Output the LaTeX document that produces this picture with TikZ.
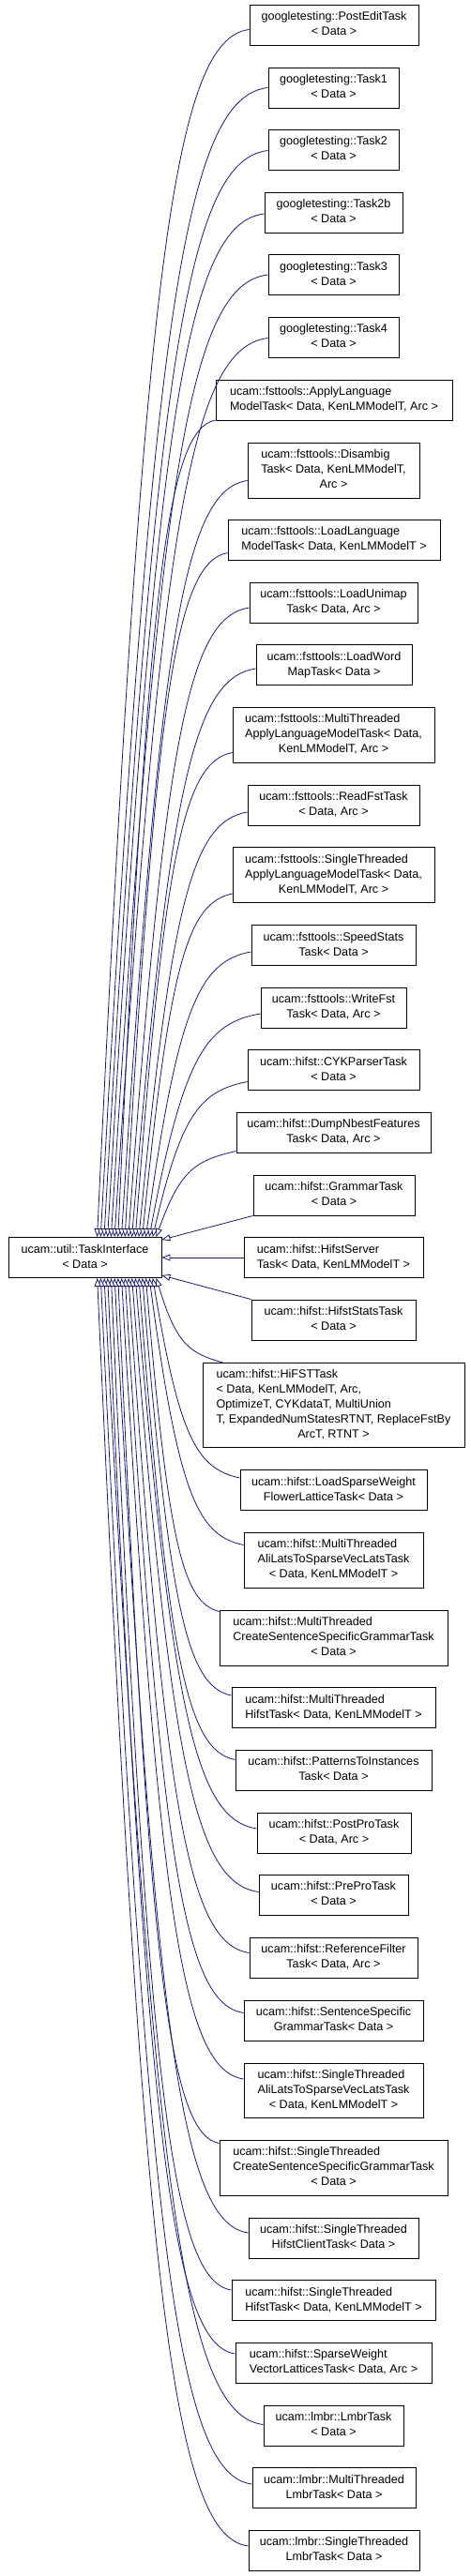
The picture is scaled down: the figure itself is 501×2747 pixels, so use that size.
\documentclass[tikz,border=0pt]{standalone}
\usepackage{fontspec}
\setmainfont{Liberation Sans}
\usetikzlibrary{arrows.meta}
\definecolor{edgeblue}{HTML}{191970}
\newcommand\lastln[1]{\multicolumn{1}{@{}c@{}}{#1}}
\newcommand\bx[1]{\begin{tabular}{@{}l@{}}#1\end{tabular}}
\begin{document}
\begin{tikzpicture}[x=1pt,y=-1pt,
  every node/.style={font=\fontsize{12.6}{16}\selectfont},
  box/.style={draw=black, line width=0.9pt, fill=white, inner sep=0pt, minimum height=43pt},
  inhedge/.style={draw=edgeblue, line width=0.8pt, -{Triangle[open,length=9pt,width=7pt,fill=white]}}]
\useasboundingbox (0,0) rectangle (501,2747);
\node[box, minimum width=163pt] (L) at (90.5,1341) {\bx{ucam::util::TaskInterface\\ \lastln{< Data >}}};
\node[box, minimum width=180pt] (n1) at (356,26.5) {\bx{googletesting::PostEditTask\\ \lastln{< Data >}}};
\node[box, minimum width=139pt] (n2) at (355.5,93.5) {\bx{googletesting::Task1\\ \lastln{< Data >}}};
\node[box, minimum width=139pt] (n3) at (355.5,159.5) {\bx{googletesting::Task2\\ \lastln{< Data >}}};
\node[box, minimum width=147pt] (n4) at (355.5,226.5) {\bx{googletesting::Task2b\\ \lastln{< Data >}}};
\node[box, minimum width=139pt] (n5) at (355.5,293) {\bx{googletesting::Task3\\ \lastln{< Data >}}};
\node[box, minimum width=139pt] (n6) at (355.5,359.5) {\bx{googletesting::Task4\\ \lastln{< Data >}}};
\node[box, minimum width=252pt] (n7) at (356,426.5) {\bx{ucam::fsttools::ApplyLanguage\\ \lastln{ModelTask< Data, KenLMModelT, Arc >}}};
\node[box, minimum width=183pt, minimum height=59pt] (n8) at (355.5,501.5) {\bx{ucam::fsttools::Disambig\\ Task< Data, KenLMModelT,\\ \lastln{Arc >}}};
\node[box, minimum width=226pt] (n9) at (356,575.5) {\bx{ucam::fsttools::LoadLanguage\\ \lastln{ModelTask< Data, KenLMModelT >}}};
\node[box, minimum width=179pt] (n10) at (355.5,642.5) {\bx{ucam::fsttools::LoadUnimap\\ \lastln{Task< Data, Arc >}}};
\node[box, minimum width=166pt] (n11) at (356,709) {\bx{ucam::fsttools::LoadWord\\ \lastln{MapTask< Data >}}};
\node[box, minimum width=215pt, minimum height=59pt] (n12) at (355.5,783.5) {\bx{ucam::fsttools::MultiThreaded\\ ApplyLanguageModelTask< Data,\\ \lastln{KenLMModelT, Arc >}}};
\node[box, minimum width=183pt] (n13) at (355.5,858.5) {\bx{ucam::fsttools::ReadFstTask\\ \lastln{< Data, Arc >}}};
\node[box, minimum width=215pt, minimum height=59pt] (n14) at (355.5,933) {\bx{ucam::fsttools::SingleThreaded\\ ApplyLanguageModelTask< Data,\\ \lastln{KenLMModelT, Arc >}}};
\node[box, minimum width=175pt] (n15) at (355.5,1008) {\bx{ucam::fsttools::SpeedStats\\ \lastln{Task< Data >}}};
\node[box, minimum width=155pt] (n16) at (355.5,1074.5) {\bx{ucam::fsttools::WriteFst\\ \lastln{Task< Data, Arc >}}};
\node[box, minimum width=183pt] (n17) at (355.5,1141) {\bx{ucam::hifst::CYKParserTask\\ \lastln{< Data >}}};
\node[box, minimum width=207pt] (n18) at (355.5,1207.5) {\bx{ucam::hifst::DumpNbestFeatures\\ \lastln{Task< Data, Arc >}}};
\node[box, minimum width=172pt] (n19) at (356,1274.5) {\bx{ucam::hifst::GrammarTask\\ \lastln{< Data >}}};
\node[box, minimum width=191pt] (n20) at (355.5,1341) {\bx{ucam::hifst::HifstServer\\ \lastln{Task< Data, KenLMModelT >}}};
\node[box, minimum width=175pt] (n21) at (355.5,1407.5) {\bx{ucam::hifst::HifstStatsTask\\ \lastln{< Data >}}};
\node[box, minimum width=279pt, minimum height=90pt] (n22) at (355.5,1498) {\bx{ucam::hifst::HiFSTTask\\ < Data, KenLMModelT, Arc,\\ OptimizeT, CYKdataT, MultiUnion\\ T, ExpandedNumStatesRTNT, ReplaceFstBy\\ \lastln{ArcT, RTNT >}}};
\node[box, minimum width=199pt] (n23) at (355.5,1589) {\bx{ucam::hifst::LoadSparseWeight\\ \lastln{FlowerLatticeTask< Data >}}};
\node[box, minimum width=191pt, minimum height=59pt] (n24) at (355.5,1663.5) {\bx{ucam::hifst::MultiThreaded\\ AliLatsToSparseVecLatsTask\\ \lastln{< Data, KenLMModelT >}}};
\node[box, minimum width=243pt, minimum height=59pt] (n25) at (355.5,1746.5) {\bx{ucam::hifst::MultiThreaded\\ CreateSentenceSpecificGrammarTask\\ \lastln{< Data >}}};
\node[box, minimum width=217pt] (n26) at (355.5,1821) {\bx{ucam::hifst::MultiThreaded\\ \lastln{HifstTask< Data, KenLMModelT >}}};
\node[box, minimum width=209pt] (n27) at (355.5,1887.5) {\bx{ucam::hifst::PatternsToInstances\\ \lastln{Task< Data >}}};
\node[box, minimum width=164pt] (n28) at (356,1954.5) {\bx{ucam::hifst::PostProTask\\ \lastln{< Data, Arc >}}};
\node[box, minimum width=159pt] (n29) at (355.5,2020.5) {\bx{ucam::hifst::PreProTask\\ \lastln{< Data >}}};
\node[box, minimum width=179pt] (n30) at (355.5,2087.5) {\bx{ucam::hifst::ReferenceFilter\\ \lastln{Task< Data, Arc >}}};
\node[box, minimum width=191pt] (n31) at (355.5,2154.5) {\bx{ucam::hifst::SentenceSpecific\\ \lastln{GrammarTask< Data >}}};
\node[box, minimum width=191pt, minimum height=58pt] (n32) at (355.5,2229) {\bx{ucam::hifst::SingleThreaded\\ AliLatsToSparseVecLatsTask\\ \lastln{< Data, KenLMModelT >}}};
\node[box, minimum width=243pt, minimum height=59pt] (n33) at (355.5,2311.5) {\bx{ucam::hifst::SingleThreaded\\ CreateSentenceSpecificGrammarTask\\ \lastln{< Data >}}};
\node[box, minimum width=181pt] (n34) at (355.5,2386.5) {\bx{ucam::hifst::SingleThreaded\\ \lastln{HifstClientTask< Data >}}};
\node[box, minimum width=217pt] (n35) at (355.5,2453) {\bx{ucam::hifst::SingleThreaded\\ \lastln{HifstTask< Data, KenLMModelT >}}};
\node[box, minimum width=209pt] (n36) at (355.5,2519.5) {\bx{ucam::hifst::SparseWeight\\ \lastln{VectorLatticesTask< Data, Arc >}}};
\node[box, minimum width=149pt] (n37) at (355.5,2586.5) {\bx{ucam::lmbr::LmbrTask\\ \lastln{< Data >}}};
\node[box, minimum width=174pt] (n38) at (356,2653) {\bx{ucam::lmbr::MultiThreaded\\ \lastln{LmbrTask< Data >}}};
\node[box, minimum width=182pt] (n39) at (356,2719.5) {\bx{ucam::lmbr::SingleThreaded\\ \lastln{LmbrTask< Data >}}};
% edges from the upper classes
\foreach \n/\dx/\sy/\xs/\ys/\xe in {n1/0/-5/266/31.5/104, n2/0/0/286/93.5/107.7, n3/0/-1/286/160.5/111.4,
  n4/0/-1.5/282/228/115.1, n5/0/0/286/293/118.8, n6/0/-1/286/360.5/122.5, n7/0/-21.5/230/448/126.2,
  n8/0/-11/264/512.5/129.9, n9/0/-14/243/589.5/133.6, n10/0/-5.5/266/648/137.3, n11/0/-4/273/713/141,
  n12/0/-19/248/802.5/144.7, n13/0/-7.5/264/866/148.4, n14/0/-20/248/953/152.1, n15/0/-7/268/1015/155.8,
  n16/0/-6.5/278/1081/159.5, n17/0/-12.5/264/1153.5/163.2, n18/0/-20/252/1227.5/166.9}{
  \pgfmathsetmacro\ha{\xs-0.5*(\xs-\xe)}
  \pgfmathsetmacro\va{\ys+min(0.15*(1319-\ys),10)}
  \pgfmathsetmacro\hb{\xe+0.3*(\xs-\xe)}
  \pgfmathsetmacro\vb{\ys+0.2*(1319-\ys)}
  \pgfmathsetmacro\xo{\xe-9}
  \draw[inhedge] ([xshift=\dx pt,yshift=\sy pt]\n.west) .. controls (\ha,\va) and (\hb,\vb) .. ([xshift=\xo pt]L.north west);
}
% edges from the lower classes
\foreach \n/\dx/\sy/\xs/\ys/\xe in {n22/22/45/238/1453/167, n23/0/13/256/1576/163.3, n24/0/16/260/1647.5/159.6,
  n25/0/28/234/1718.5/155.9, n26/0/13/247/1808/152.2, n27/0/11/251/1876.5/148.5, n28/0/4.5/274/1950/144.8,
  n29/0/3/276/2017.5/141.1, n30/0/5/266/2082.5/137.4, n31/0/8/260/2146.5/133.7, n32/0/12/260/2217/130,
  n33/0/26/234/2285.5/126.3, n34/0/5.5/265/2381/122.6, n35/0/11/247/2442/118.9, n36/0/9.5/251/2510/115.2,
  n37/0/1/281/2585.5/111.5, n38/0/4/269/2649/107.8, n39/0/4.5/265/2715/104.1}{
  \pgfmathsetmacro\ha{\xs-0.5*(\xs-\xe)}
  \pgfmathsetmacro\va{\ys-min(0.15*(\ys-1362),10)}
  \pgfmathsetmacro\hb{\xe+0.3*(\xs-\xe)}
  \pgfmathsetmacro\vb{\ys-0.2*(\ys-1362)}
  \pgfmathsetmacro\xo{\xe-9}
  \draw[inhedge] ([xshift=\dx pt,yshift=\sy pt]\n.west) .. controls (\ha,\va) and (\hb,\vb) .. ([xshift=\xo pt]L.south west);
}
% the three nearly straight edges
\draw[inhedge] (n19.south west) -- ([yshift=-3pt]L.north east);
\draw[inhedge] (n20.west) -- (L.east);
\draw[inhedge] (n21.north west) -- ([yshift=3pt]L.south east);
\end{tikzpicture}
\end{document}
